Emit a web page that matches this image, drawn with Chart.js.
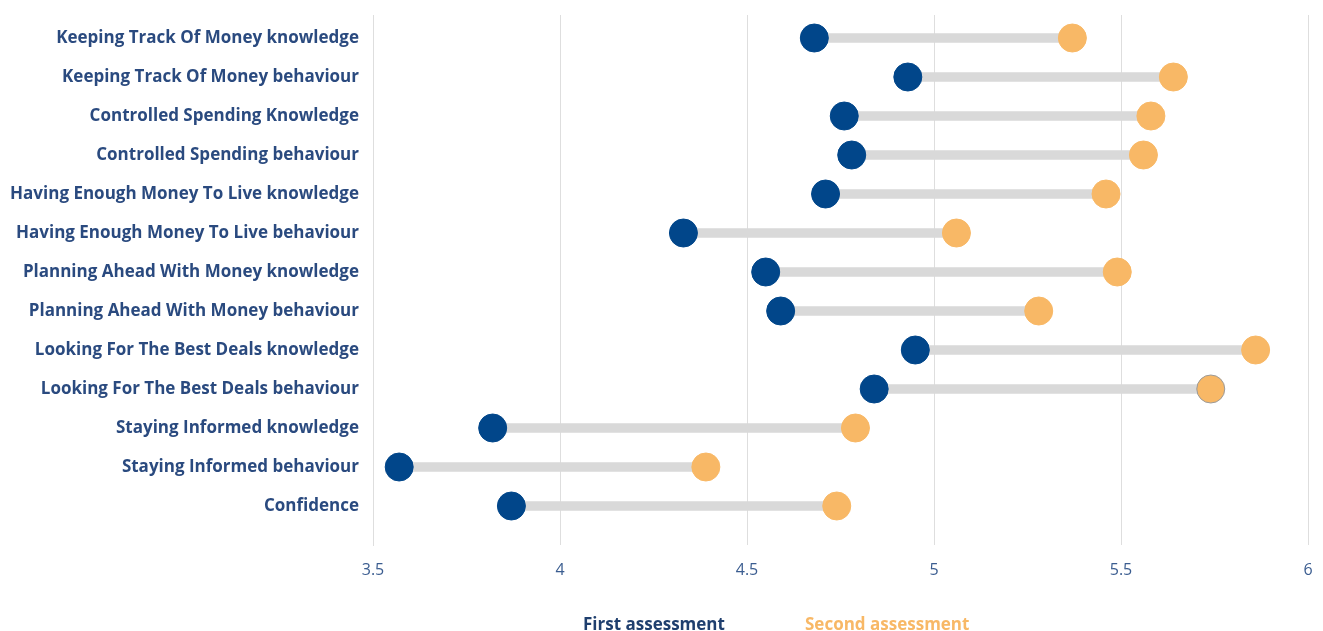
<!DOCTYPE html>
<html>
<head>
<meta charset="utf-8">
<script src="https://cdn.jsdelivr.net/npm/chart.js@4"></script>
<style>
  html, body { margin: 0; padding: 0; background: #ffffff; }
  #wrap { width: 1323px; height: 631px; position: relative; }
  .key { position: absolute; top: 612px; font-family: 'Open Sans', sans-serif; font-weight: bold; font-size: 17px; line-height: 24px; white-space: nowrap; }
</style>
</head>
<body>
<div id="wrap">
  <canvas id="c"></canvas>
  <div class="key" id="k1" style="left:583px;color:#1f3f6e"></div>
  <div class="key" id="k2" style="left:805px;color:#f8b866"></div>
</div>
<script>
// Topics, top to bottom
const categories = [
  "Keeping Track Of Money knowledge",
  "Keeping Track Of Money behaviour",
  "Controlled Spending Knowledge",
  "Controlled Spending behaviour",
  "Having Enough Money To Live knowledge",
  "Having Enough Money To Live behaviour",
  "Planning Ahead With Money knowledge",
  "Planning Ahead With Money behaviour",
  "Looking For The Best Deals knowledge",
  "Looking For The Best Deals behaviour",
  "Staying Informed knowledge",
  "Staying Informed behaviour",
  "Confidence"
];
// Mean scores
const firstAssessment  = [4.68, 4.93, 4.76, 4.78, 4.71, 4.33, 4.55, 4.59, 4.95, 4.84, 3.82, 3.57, 3.87];
const secondAssessment = [5.37, 5.64, 5.58, 5.56, 5.46, 5.06, 5.49, 5.28, 5.86, 5.74, 4.79, 4.39, 4.74];
const xTicks = [3.5, 4, 4.5, 5, 5.5, 6];
const xTickLabels = ["3.5", "4", "4.5", "5", "5.5", "6"];
const seriesNames = ["First assessment", "Second assessment"];

const BLUE = "#01468a";
const ORANGE = "#f8b866";
const LINK = "#d9d9d9";

document.getElementById("k1").textContent = seriesNames[0];
document.getElementById("k2").textContent = seriesNames[1];

const connectors = categories.map((_, i) => ({ y: i, x: [firstAssessment[i], secondAssessment[i]] }));
const firstPts = firstAssessment.map((v, i) => ({ x: v, y: i }));
const secondPts = secondAssessment.map((v, i) => ({ x: v, y: i }));
const secondBorders = secondAssessment.map((_, i) => i === 9 ? "#9a9a9a" : ORANGE);

new Chart(document.getElementById("c"), {
  type: "bar",
  data: {
    datasets: [
      {
        type: "bar",
        label: "range",
        indexAxis: "y",
        data: connectors,
        backgroundColor: LINK,
        borderWidth: 0,
        barThickness: 9,
        borderSkipped: false,
        order: 3
      },
      {
        type: "scatter",
        label: seriesNames[1],
        data: secondPts,
        backgroundColor: ORANGE,
        borderColor: secondBorders,
        borderWidth: 1,
        pointRadius: 14,
        pointHoverRadius: 14,
        order: 2
      },
      {
        type: "scatter",
        label: seriesNames[0],
        data: firstPts,
        backgroundColor: BLUE,
        borderColor: BLUE,
        borderWidth: 1,
        pointRadius: 14,
        pointHoverRadius: 14,
        order: 1
      }
    ]
  },
  options: {
    responsive: true,
    maintainAspectRatio: false,
    animation: false,
    layout: { padding: { top: 12, right: 11, bottom: 46, left: 0 } },
    plugins: {
      tooltip: { enabled: false },
      legend: { display: false }
    },
    scales: {
      x: {
        type: "linear",
        position: "bottom",
        offset: false,
        min: 3.5,
        max: 6,
        afterBuildTicks: s => { s.ticks = xTicks.map(v => ({ value: v })); },
        afterFit: s => { s.height = 40; s.paddingLeft = 0; s.paddingRight = 0; },
        grid: { color: "#dedede", lineWidth: 1, drawTicks: false, offset: false },
        border: { display: false },
        ticks: {
          padding: 16,
          color: "#3b5d90",
          font: { family: "'Liberation Sans Narrow', 'Open Sans', sans-serif", size: 16 },
          callback: (v) => xTickLabels[xTicks.indexOf(v)]
        }
      },
      y: {
        type: "linear",
        reverse: true,
        offset: false,
        min: -0.59,
        max: 13.0,
        afterBuildTicks: s => { s.ticks = categories.map((_, i) => ({ value: i })); },
        afterFit: s => { s.width = 373; s.paddingTop = 0; s.paddingBottom = 0; },
        grid: { display: false, drawTicks: false, offset: false },
        border: { display: true, color: "#dedede", width: 1 },
        ticks: {
          padding: 14,
          autoSkip: false,
          color: "#2a4a7f",
          font: { family: "'Open Sans', sans-serif", size: 17, weight: "bold" },
          callback: v => categories[v]
        }
      }
    }
  }
});
</script>
</body>
</html>
